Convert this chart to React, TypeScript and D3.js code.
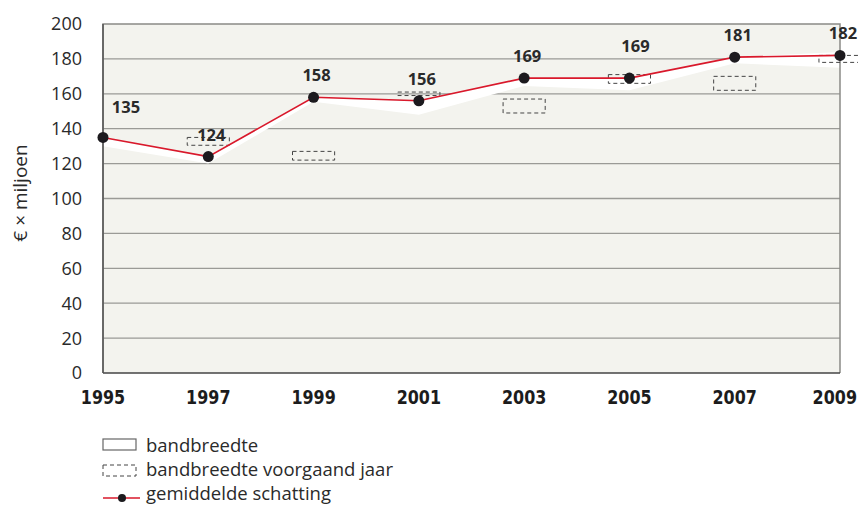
import React from 'react';
import * as d3 from 'd3';

// values
const years = [1995, 1997, 1999, 2001, 2003, 2005, 2007, 2009];
const estimate = [135, 124, 158, 156, 169, 169, 181, 182];
const bandHigh = [135, 124, 158, 156, 169, 169, 181, 184];
const bandLow = [130, 120, 155.5, 148, 164.5, 162, 177.5, 175];
const prevHigh = [null, 135, 127, 161, 157, 171, 170, 182];
const prevLow = [null, 130.5, 122, 159, 149, 166, 162, 178];
const yTicks = [0, 20, 40, 60, 80, 100, 120, 140, 160, 180, 200];
const legendItems = ['bandbreedte', 'bandbreedte voorgaand jaar', 'gemiddelde schatting'];

const W = 858, H = 505;
const m = { left: 103, right: 840, top: 24, bottom: 373 };
const RED = '#d9182b';
const FONT = '"Open Sans", "DejaVu Sans", sans-serif';

// label nudges (px) for the few labels that sit off the usual spot
const labelShift: Record<number, [number, number]> = { 1995: [23, -30], 2005: [6, -32] };

export default function App() {
  const x = d3.scaleLinear().domain([1995, 2009]).range([m.left, m.right]);
  const y = d3.scaleLinear().domain([0, 200]).range([m.bottom, m.top]);

  const rows = years.map((yr, i) => ({ yr, est: estimate[i], hi: bandHigh[i], lo: bandLow[i], ph: prevHigh[i], pl: prevLow[i] }));

  const area = d3.area<any>().x(d => x(d.yr)).y0(d => y(d.lo)).y1(d => y(d.hi));
  const line = d3.line<any>().x(d => x(d.yr)).y(d => y(d.est));

  return (
    <svg width={W} height={H} style={{ position: 'absolute', left: 0, top: 0 }}>
      <defs>
        <clipPath id="plot">
          <rect x={m.left} y={m.top} width={m.right - m.left} height={m.bottom - m.top} />
        </clipPath>
      </defs>
      <rect x={m.left} y={m.top} width={m.right - m.left} height={m.bottom - m.top} fill="#f3f3ee" />
      {yTicks.filter(t => t > 0 && t < 200).map(t => (
        <line key={t} x1={m.left} x2={m.right} y1={y(t)} y2={y(t)} stroke="#9a9a96" strokeWidth={1.3} />
      ))}
      <path d={area(rows) || ''} fill="#fff" clipPath="url(#plot)" />
      {/* frame */}
      <path d={`M${m.left},${m.bottom}V${m.top}H${m.right}V${m.bottom}`} fill="none" stroke="#8a8a86" strokeWidth={1.5} />
      <line x1={m.left} x2={m.right} y1={m.bottom} y2={m.bottom} stroke="#444" strokeWidth={1.5} />
      <line x1={m.left} x2={m.left} y1={m.top} y2={m.bottom} stroke="#555" strokeWidth={1.5} />

      {rows.filter(d => d.ph != null).map(d => (
        <rect key={'p' + d.yr} x={x(d.yr - 0.4)} y={y(d.ph as number)} width={x(d.yr + 0.4) - x(d.yr - 0.4)}
          height={y(d.pl as number) - y(d.ph as number)} fill="none" stroke="#444" strokeWidth={1} strokeDasharray="4,3" />
      ))}

      <path d={line(rows) || ''} fill="none" stroke={RED} strokeWidth={1.6} />
      {rows.map(d => (
        <circle key={'c' + d.yr} cx={x(d.yr)} cy={y(d.est)} r={5.5} fill="#1c1a1e" />
      ))}
      {rows.map(d => {
        const [dx, dy] = labelShift[d.yr] || [3, -22];
        return (
          <text key={'l' + d.yr} x={x(d.yr) + dx} y={y(d.est) + dy} dy="0.36em" textAnchor="middle"
            fontFamily={FONT} fontWeight="bold" fontSize={16.5} fill="#2a2a2a">{d.est}</text>
        );
      })}

      {yTicks.map(t => (
        <text key={'y' + t} x={82} y={y(t)} dy="0.36em" textAnchor="end" fontFamily={FONT} fontSize={18} fill="#2a2a2a">{t}</text>
      ))}
      {years.map((yr, i) => {
        const last = i === years.length - 1;
        return (
          <text key={'x' + yr} transform={`translate(${last ? 857 : x(yr)},404) scale(0.84,1)`} textAnchor={last ? 'end' : 'middle'}
            fontFamily='"DejaVu Sans", sans-serif' fontWeight="bold" fontSize={19} fill="#1c1c1c">{yr}</text>
        );
      })}
      <text transform={`translate(20,193) rotate(-90)`} textAnchor="middle" dy="0.36em" fontFamily={FONT} fontSize={19} fill="#2a2a2a">€ × miljoen</text>

      {/* legend */}
      <g fontFamily={FONT} fontSize={18.5} fill="#2a2a2a">
        <rect x={103} y={439} width={33} height={11} fill="#fff" stroke="#666" strokeWidth={1.2} />
        <text x={146} y={452}>{legendItems[0]}</text>
        <rect x={103} y={465} width={33} height={11} fill="none" stroke="#444" strokeWidth={1} strokeDasharray="4,3" />
        <text x={146} y={476}>{legendItems[1]}</text>
        <line x1={103} x2={140} y1={498} y2={498} stroke={RED} strokeWidth={1.6} />
        <circle cx={122} cy={498} r={4} fill="#1c1a1e" />
        <text x={146} y={500}>{legendItems[2]}</text>
      </g>
    </svg>
  );
}
